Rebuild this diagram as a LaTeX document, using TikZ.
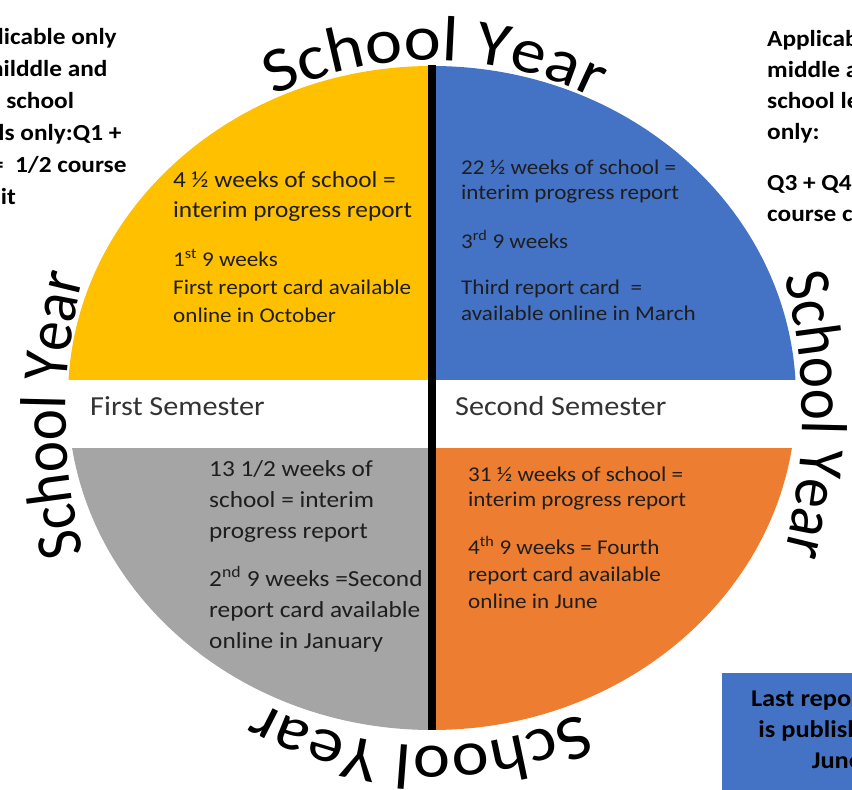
\documentclass[tikz,border=0pt]{standalone}
\usepackage{fontspec}
\setmainfont{Carlito}[FakeStretch=1.1]
\newfontfamily\sidefont{Carlito}[FakeStretch=0.91]
\usetikzlibrary{decorations.text,calc}
\definecolor{cyel}{HTML}{FFC000}
\definecolor{cblu}{HTML}{4472C4}
\definecolor{cgry}{HTML}{A5A5A5}
\definecolor{corg}{HTML}{ED7D31}
\definecolor{ctxt}{HTML}{1E1E1E}
\definecolor{csem}{HTML}{333333}
\begin{document}
\begin{tikzpicture}[x=1pt,y=1pt,
  qtext/.style={anchor=base west, align=left, inner sep=0pt, text=ctxt},
  note/.style={anchor=base west, align=left, inner sep=0pt, text=black, font=\bfseries\fontsize{23}{32}\selectfont},
  semtext/.style={anchor=base west, inner sep=0pt, text=csem, font=\fontsize{27.5}{30}\selectfont},
  arctext/.style={decorate, decoration={text along path, text align=center, text={|\fontsize{64}{64}\selectfont|School Year}}},
  sidetext/.style={decorate, decoration={text along path, text align=center, text={|\sidefont\fontsize{65}{65}\selectfont|School Year}}}
]
\useasboundingbox (0,0) rectangle (852,790);
\clip (0,0) rectangle (852,790);
\coordinate (c) at (432,392);
\coordinate (cs) at (432,375);
% quadrants
\fill[cyel] (c) -- ++(-364,0) arc[start angle=180,end angle=90,x radius=364,y radius=332] -- cycle;
\fill[cblu] (c) -- ++(0,332) arc[start angle=90,end angle=0,x radius=364,y radius=332] -- cycle;
\fill[cgry] (c) -- ++(-364,0) arc[start angle=180,end angle=270,x radius=364,y radius=332] -- cycle;
\fill[corg] (c) -- ++(364,0) arc[start angle=0,end angle=-90,x radius=364,y radius=332] -- cycle;
% white band
\fill[white] (40,342) rectangle (820,410);
% divider
\coordinate (ltop) at (432,725);
\coordinate (lbot) at (432,60);
\draw[line width=8pt] (ltop) -- (lbot);
% curved titles
\path[arctext] ($(c)+(124.5:351 and 338)$) arc[start angle=124.5,end angle=54.5,x radius=351,y radius=338];
\path[arctext] ($(c)+(303:351 and 348)$) arc[start angle=303,end angle=233,x radius=351,y radius=348];
\path[sidetext] ($(cs)+(30:370 and 450)$) arc[start angle=30,end angle=-30,x radius=370,y radius=450];
\path[sidetext] ($(cs)+(210:366 and 450)$) arc[start angle=210,end angle=150,x radius=366,y radius=450];
% yellow
\node[qtext, font=\fontsize{23}{30}\selectfont] (y1) at (173,572) {4 ½ weeks of school =\\interim progress report};
\node[qtext, font=\fontsize{21}{28}\selectfont] (y2) at (173,467.7) {1\textsuperscript{st} 9 weeks\\First report card available\\online in October};
% blue
\node[qtext, font=\fontsize{21}{25}\selectfont] (b1) at (461,590.7) {22 ½ weeks of school =\\interim progress report};
\node[qtext, font=\fontsize{21}{25}\selectfont] (b2) at (461,541.7) {3\textsuperscript{rd} 9 weeks};
\node[qtext, font=\fontsize{21}{26}\selectfont] (b3) at (461,469.7) {Third report card\ \ =\\available online in March};
% gray
\node[qtext, font=\fontsize{23}{31}\selectfont] (g1) at (209,251) {13 1/2 weeks of\\school = interim\\progress report};
\node[qtext, font=\fontsize{23}{31}\selectfont] (g2) at (209,141) {2\textsuperscript{nd} 9 weeks =Second\\report card available\\online in January};
% orange
\node[qtext, font=\fontsize{21}{25}\selectfont] (o1) at (468,283.7) {31 ½ weeks of school =\\interim progress report};
\node[qtext, font=\fontsize{21}{27}\selectfont] (o2) at (468,181.7) {4\textsuperscript{th} 9 weeks = Fourth\\report card available\\online in June};
% semesters
\node[semtext] (s1) at (90,374) {First Semester};
\node[semtext] (s2) at (455,374) {Second Semester};
% notes
\node[note] (ln) at (-45,585) {Applicable only\\to milddle and\\high school\\levels only:Q1 +\\Q2 =~~1/2 course\\credit};
\node[note, font=\bfseries\fontsize{23}{31}\selectfont] (rn1) at (767,650) {Applicable only to\\middle and high\\school levels\\only:};
\node[note, font=\bfseries\fontsize{23}{31}\selectfont] (rn2) at (767,568) {Q3 + Q4 = 1/2\\course credit};
% bottom-right box
\fill[cblu] (722,-5) rectangle (870,117);
\node[anchor=base, align=center, inner sep=0pt, text=black, font=\bfseries\fontsize{24}{31}\selectfont] (bx) at (837,21) {Last report card\\is published in\\June};
\end{tikzpicture}
\end{document}
